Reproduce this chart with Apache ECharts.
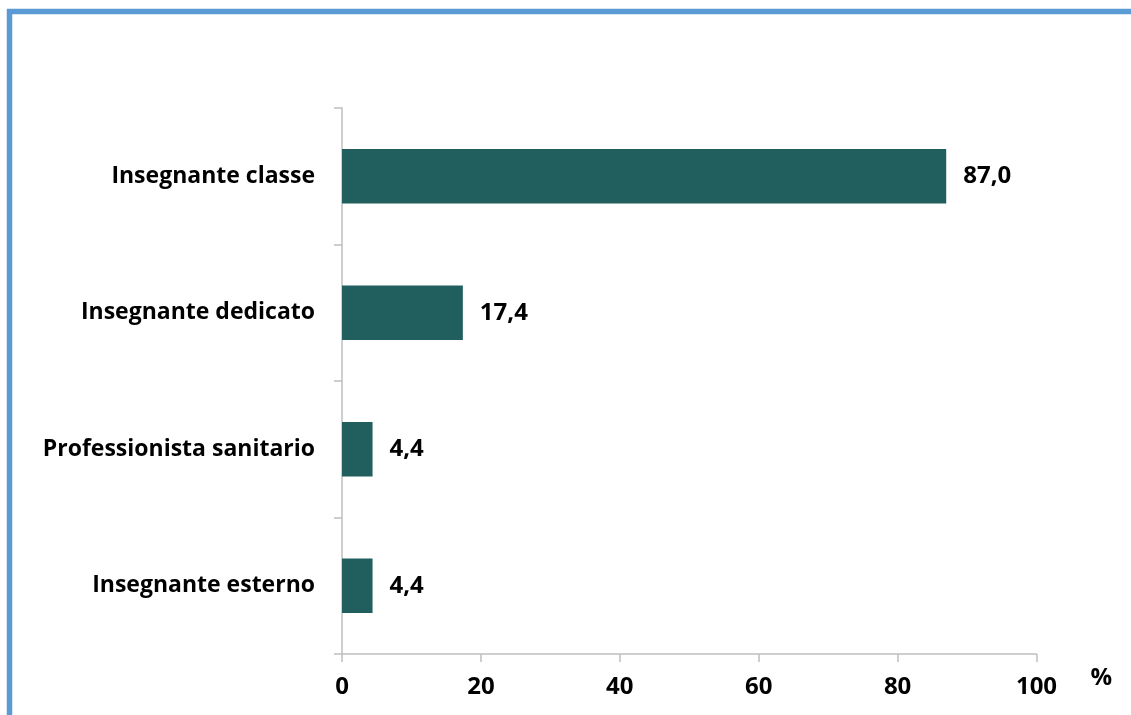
<!DOCTYPE html>
<html>
<head>
<meta charset="utf-8">
<script src="https://cdn.jsdelivr.net/npm/echarts@6/dist/echarts.min.js"></script>
<style>
html,body{margin:0;padding:0;background:#fff;}
#chart{width:1131px;height:715px;}
</style>
</head>
<body>
<div id="chart"></div>
<script>
const categories = ["Insegnante classe", "Insegnante dedicato", "Professionista sanitario", "Insegnante esterno"];
const values = [87.0, 17.4, 4.4, 4.4];
const xTicks = [0, 20, 40, 60, 80, 100];
const axisUnit = "%";

const FONT = "Open Sans";
const WEIGHT = 'bold';
const chart = echarts.init(document.getElementById('chart'), null, {renderer: 'canvas'});
chart.setOption({
  animation: false,
  backgroundColor: '#ffffff',
  graphic: [{
    type: 'rect',
    shape: {x: 9.5, y: 11.5, width: 1300, height: 900},
    style: {fill: 'none', stroke: '#5B9BD5', lineWidth: 5.5},
    silent: true
  }],
  grid: {left: 342, right: 94.5, top: 108, bottom: 61, containLabel: false},
  xAxis: {
    type: 'value',
    min: xTicks[0],
    max: xTicks[xTicks.length - 1],
    interval: xTicks[1] - xTicks[0],
    name: axisUnit,
    nameLocation: 'end',
    nameGap: 54,
    nameTextStyle: {fontFamily: FONT, fontWeight: WEIGHT, fontSize: 24, color: '#000', verticalAlign: 'top', padding: [12, 0, 0, 0]},
    axisLine: {show: true, lineStyle: {color: '#BFBFBF', width: 1.5}},
    axisTick: {show: true, length: 8, lineStyle: {color: '#BFBFBF', width: 1.5}},
    axisLabel: {fontFamily: FONT, fontWeight: WEIGHT, fontSize: 24, color: '#000', margin: 21},
    splitLine: {show: false}
  },
  yAxis: {
    type: 'category',
    data: categories,
    inverse: true,
    axisLine: {show: true, lineStyle: {color: '#BFBFBF', width: 1.5}},
    axisTick: {show: true, length: 8, lineStyle: {color: '#BFBFBF', width: 1.5}},
    axisLabel: {fontFamily: FONT, fontWeight: WEIGHT, fontSize: 23, color: '#000', margin: 27, padding: [3, 0, 0, 0]}
  },
  series: [{
    type: 'bar',
    data: values,
    barWidth: '40%',
    itemStyle: {color: '#215E5E'},
    label: {
      show: true,
      position: 'right',
      distance: 17,
      fontFamily: FONT,
      fontWeight: WEIGHT,
      fontSize: 24,
      color: '#000',
      formatter: p => p.value.toFixed(1).replace('.', ',')
    }
  }]
});
</script>
</body>
</html>
